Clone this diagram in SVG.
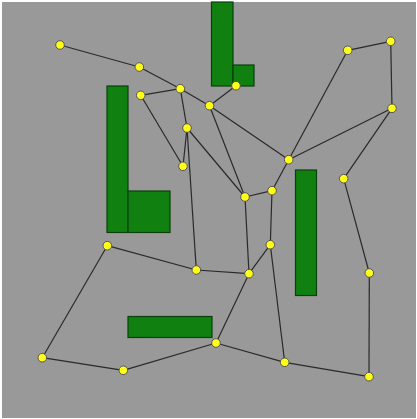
<svg xmlns="http://www.w3.org/2000/svg" width="417" height="419" viewBox="0 0 417 419">
<style>
.obs{fill:#108010;stroke:#0b3f0b;stroke-width:1.2}
.e{stroke:#2a2a2a;stroke-width:1.2;fill:none}
.n{fill:#ffff1a;stroke:#555;stroke-width:1}
</style>
<rect x="0" y="0" width="417" height="419" fill="#ffffff"/>
<rect x="2" y="2" width="414" height="416" fill="#999999"/>
<g id="obstacles">
<rect id="obs1" class="obs" x="211.5" y="2" width="21.5" height="84"/>
<rect id="obs2" class="obs" x="233" y="65" width="21" height="21"/>
<rect id="obs3" class="obs" x="107" y="86" width="21" height="146.5"/>
<rect id="obs4" class="obs" x="128" y="191" width="42" height="41.5"/>
<rect id="obs5" class="obs" x="295.5" y="170" width="21" height="125.5"/>
<rect id="obs6" class="obs" x="128" y="316.5" width="84" height="21"/>
</g>
<g id="connectors">
<line class="e" x1="60" y1="45" x2="139.3" y2="67"/>
<line class="e" x1="139.3" y1="67" x2="180.3" y2="88.7"/>
<line class="e" x1="180.3" y1="88.7" x2="209.5" y2="105.7"/>
<line class="e" x1="180.3" y1="88.7" x2="140.7" y2="95.3"/>
<line class="e" x1="140.7" y1="95.3" x2="183" y2="166.3"/>
<line class="e" x1="180.3" y1="88.7" x2="187" y2="128"/>
<line class="e" x1="187" y1="128" x2="183" y2="166.3"/>
<line class="e" x1="187" y1="128" x2="196.3" y2="270"/>
<line class="e" x1="187" y1="128" x2="245" y2="197"/>
<line class="e" x1="209.5" y1="105.7" x2="236" y2="85.7"/>
<line class="e" x1="209.5" y1="105.7" x2="288.7" y2="159.7"/>
<line class="e" x1="209.5" y1="105.7" x2="245" y2="197"/>
<line class="e" x1="288.7" y1="159.7" x2="347.7" y2="50.3"/>
<line class="e" x1="288.7" y1="159.7" x2="392" y2="108.3"/>
<line class="e" x1="347.7" y1="50.3" x2="390.7" y2="41.3"/>
<line class="e" x1="390.7" y1="41.3" x2="392" y2="108.3"/>
<line class="e" x1="392" y1="108.3" x2="343.7" y2="178.7"/>
<line class="e" x1="343.7" y1="178.7" x2="369.3" y2="273"/>
<line class="e" x1="245" y1="197" x2="272" y2="190.7"/>
<line class="e" x1="272" y1="190.7" x2="288.7" y2="159.7"/>
<line class="e" x1="245" y1="197" x2="249" y2="273.7"/>
<line class="e" x1="272" y1="190.7" x2="270.3" y2="244.7"/>
<line class="e" x1="270.3" y1="244.7" x2="249" y2="273.7"/>
<line class="e" x1="270.3" y1="244.7" x2="284.7" y2="362.3"/>
<line class="e" x1="196.3" y1="270" x2="249" y2="273.7"/>
<line class="e" x1="196.3" y1="270" x2="107.3" y2="245.7"/>
<line class="e" x1="107.3" y1="245.7" x2="42.3" y2="357.7"/>
<line class="e" x1="42.3" y1="357.7" x2="123.3" y2="370.3"/>
<line class="e" x1="123.3" y1="370.3" x2="216" y2="343"/>
<line class="e" x1="216" y1="343" x2="249" y2="273.7"/>
<line class="e" x1="216" y1="343" x2="284.7" y2="362.3"/>
<line class="e" x1="284.7" y1="362.3" x2="369" y2="376.7"/>
<line class="e" x1="369.3" y1="273" x2="369" y2="376.7"/>
</g>
<g id="nA"><circle class="n" cx="60" cy="45" r="4.3"/></g>
<g id="nB"><circle class="n" cx="139.3" cy="67" r="4.3"/></g>
<g id="nC"><circle class="n" cx="180.3" cy="88.7" r="4.3"/></g>
<g id="nD"><circle class="n" cx="140.7" cy="95.3" r="4.3"/></g>
<g id="nE"><circle class="n" cx="209.5" cy="105.7" r="4.3"/></g>
<g id="nF"><circle class="n" cx="236" cy="85.7" r="4.3"/></g>
<g id="nG"><circle class="n" cx="187" cy="128" r="4.3"/></g>
<g id="nH"><circle class="n" cx="183" cy="166.3" r="4.3"/></g>
<g id="nI"><circle class="n" cx="288.7" cy="159.7" r="4.3"/></g>
<g id="nJ"><circle class="n" cx="347.7" cy="50.3" r="4.3"/></g>
<g id="nK"><circle class="n" cx="390.7" cy="41.3" r="4.3"/></g>
<g id="nL"><circle class="n" cx="392" cy="108.3" r="4.3"/></g>
<g id="nM"><circle class="n" cx="343.7" cy="178.7" r="4.3"/></g>
<g id="nN"><circle class="n" cx="245" cy="197" r="4.3"/></g>
<g id="nO"><circle class="n" cx="272" cy="190.7" r="4.3"/></g>
<g id="nP"><circle class="n" cx="270.3" cy="244.7" r="4.3"/></g>
<g id="nQ"><circle class="n" cx="196.3" cy="270" r="4.3"/></g>
<g id="nR"><circle class="n" cx="249" cy="273.7" r="4.3"/></g>
<g id="nS"><circle class="n" cx="107.3" cy="245.7" r="4.3"/></g>
<g id="nT"><circle class="n" cx="42.3" cy="357.7" r="4.3"/></g>
<g id="nU"><circle class="n" cx="123.3" cy="370.3" r="4.3"/></g>
<g id="nV"><circle class="n" cx="216" cy="343" r="4.3"/></g>
<g id="nW"><circle class="n" cx="284.7" cy="362.3" r="4.3"/></g>
<g id="nX"><circle class="n" cx="369.3" cy="273" r="4.3"/></g>
<g id="nY"><circle class="n" cx="369" cy="376.7" r="4.3"/></g>
</svg>
